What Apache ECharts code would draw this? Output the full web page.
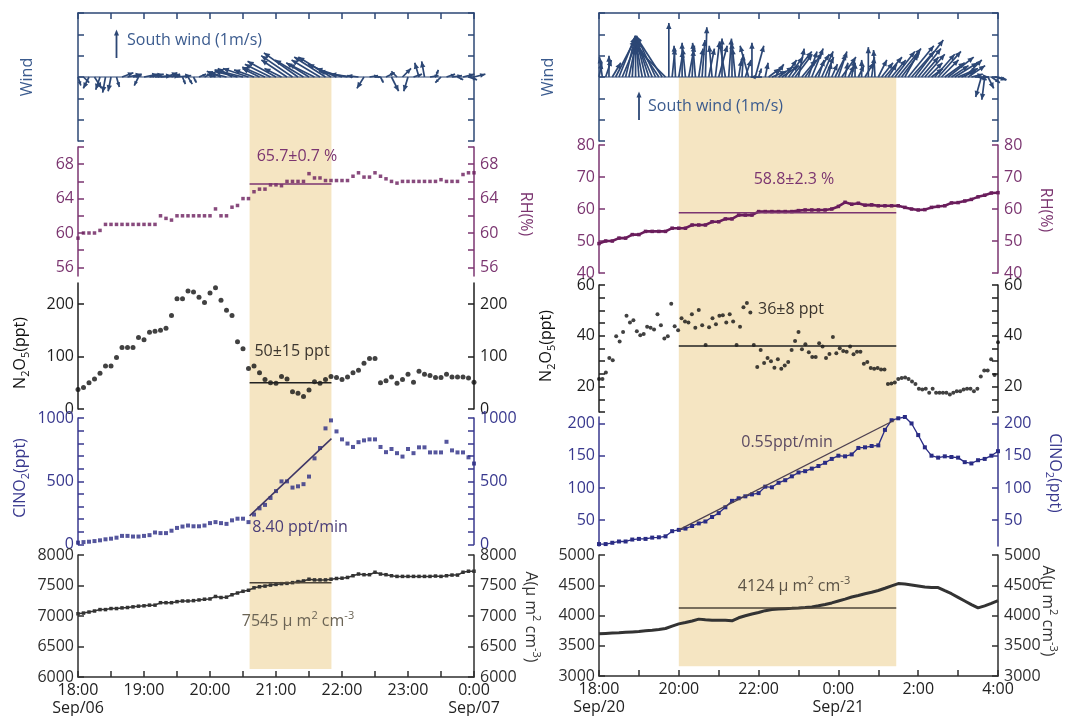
<!DOCTYPE html>
<html><head><meta charset="utf-8">
<script src="https://cdn.jsdelivr.net/npm/echarts@6/dist/echarts.min.js"></script>
<style>html,body{margin:0;padding:0;background:#fff}#c{width:1065px;height:716px}</style>
</head><body><div id="c"></div>
<script>
// ---------------- DATA ----------------
// x values are hours after 18:00
const leftTickHours = [0,1,2,3,4,5,6];
const leftTickLabels = ['18:00\nSep/06','19:00','20:00','21:00','22:00','23:00','0:00\nSep/07'];
const rightTickHours = [0,2,4,6,8,10];
const rightTickLabels = ['18:00\nSep/20','20:00','22:00','0:00\nSep/21','2:00','4:00'];
const xTicksL = [0,0.5,1,1.5,2,2.5,3,3.5,4,4.5,5,5.5,6];
const xTicksR = [0,1,2,3,4,5,6,7,8,9,10];

// y tick / label values
const windTicks = [-2.25,-1.5,-0.75,0,0.75,1.5,2.25];
const rhTicksL = [56,58,60,62,64,66,68,70], rhLabelsL = [56,60,64,68];
const n2o5TicksL = [0,100,200];
const clTicksL = [0,100,200,300,400,500,600,700,800,900,1000], clLabelsL = [0,500,1000];
const aTicksL = [6000,6500,7000,7500,8000];
const rhTicksR = [40,50,60,70,80];
const n2o5TicksR = [10,15,20,25,30,35,40,45,50,55,60], n2o5LabelsR = [20,40,60];
const clTicksR = [50,100,150,200];
const aTicksR = [3000,3500,4000,4500,5000];

// ---- Left case (Sep 06-07), 5-min samples ----
const stepLmin = 5;
const windLU = [0.1,0.2,-0.2,0.25,-0.15,-0.1,-0.1,0.1,0.4,0.5,0.3,-0.15,0.5,0.5,0.6,0.7,0.4,0.3,0.5,0.1,
  0.15,0.1,0.25,0.3,0.2,-0.3,-0.5,-0.6,-0.5,-0.8,-1.0,-0.9,-0.7,-0.6,-0.8,-0.9,-1.0,-0.6,-0.9,-1.1,
  -1.2,-1.0,-0.8,-0.9,-1.0,-1.1,-1.15,-1.0,-0.9,-1.0,-0.8,-0.4,-0.25,0.3,0.2,0.1,0.3,0.25,-0.2,0.3,
  -0.15,0.3,-0.15,-0.1,0.3,0.1,-0.2,0.3,0.35,0.2,0.4,0.3,0.4];
const windLV = [-0.3,-0.2,-0.4,-0.4,-0.45,-0.55,-0.5,-0.35,0.15,0.1,0.05,-0.3,0.1,0.1,0.05,0.05,0.15,0.1,0.05,-0.25,
  -0.25,-0.2,0.1,0.15,0.05,0.1,0.2,0.15,0.3,0.2,0.25,0.3,0.25,0.3,0.35,0.45,0.55,0.3,0.6,0.75,
  0.85,0.6,0.5,0.45,0.6,0.7,0.7,0.45,0.3,0.2,0.1,0.05,-0.4,0.05,0.0,-0.2,0.15,-0.5,0.2,0.3,
  -0.5,0.1,0.5,0.55,0.05,0.25,-0.2,0.1,0.05,-0.1,0.1,-0.1,0.1];
const rhL = [59.4,60.0,60.0,60.0,60.3,61.0,61.0,61.0,61.0,61.0,
  61.0,61.0,61.0,61.0,61.0,62.0,61.7,61.5,62.0,62.0,
  62.0,62.0,62.0,62.0,62.0,62.8,62.0,62.0,63.0,63.2,
  64.0,64.0,64.8,65.1,65.1,65.6,65.6,65.5,66.0,66.0,
  66.0,66.0,66.9,66.4,66.4,66.1,66.1,66.1,66.1,66.1,
  66.6,67.0,66.5,66.5,67.0,66.6,66.3,66.0,65.8,66.0,
  66.0,66.0,66.0,66.0,66.0,66.0,66.2,66.0,66.0,66.0,
  66.8,67.0,67.0];
const n2o5L = [37,41,50,57,68,82,82,98,117,117,
  117,136,132,146,148,150,154,178,210,210,
  225,223,213,203,221,231,207,188,178,128,
  115,77,82,69,56,50,49,62,57,33,
  30,24,36,52,49,56,62,60,56,61,
  69,74,87,96,96,50,54,61,49,56,
  66,51,72,66,64,60,60,66,61,61,
  61,59,51];
const clno2L = [15,19,22,27,33,41,46,54,68,68,
  63,63,68,74,95,90,90,109,131,142,
  150,144,144,150,169,177,169,163,191,204,
  204,177,237,286,313,368,422,499,499,450,
  460,477,537,681,763,918,981,894,831,798,
  771,809,823,831,831,771,730,755,722,695,
  755,722,768,768,728,728,728,812,744,728,
  728,689,640];
const aL = [7037,7048,7065,7082,7105,7105,7122,7122,7133,7139,
  7150,7161,7167,7178,7178,7218,7218,7218,7235,7246,
  7246,7252,7263,7275,7280,7320,7303,7309,7348,7377,
  7405,7422,7462,7479,7490,7507,7518,7530,7535,7547,
  7564,7575,7603,7592,7592,7592,7603,7615,7620,7632,
  7660,7688,7677,7677,7717,7688,7677,7660,7649,7649,
  7649,7649,7649,7649,7649,7655,7649,7660,7671,7671,
  7717,7734,7734];
const shadeL = [2.6, 3.84];          // 20:36 - 21:50
const shadeBottomL = 6130;           // in A-axis units
const meanRhL = 65.7, meanN2o5L = 50, meanAL = 7545;
const fitClL = [[2.6, 226], [3.84, 837]];

// ---- Right case (Sep 20-21) ----
const stepRwindMin = 5;
const windRU = [0.1,-0.1,0.2,0.0,0.3,0.67,0.56,0.46,0.35,0.25,
  0.1,0.0,-0.1,-0.2,-0.35,-0.46,-0.56,-0.67,-0.8,-0.9,
  -1.0,0.0,0.1,-0.05,0.15,0.0,-0.1,0.2,0.05,-0.1,
  0.15,0.1,0.05,0.2,-0.1,0.15,0.3,0.0,-0.2,0.1,
  0.0,-0.1,0.1,0.05,0.2,-0.3,0.0,0.3,0.1,-0.4,
  0.1,0.4,0.5,0.3,0.5,0.6,0.4,0.5,0.7,0.6,
  0.2,0.5,0.6,0.3,0.4,0.5,0.2,0.4,0.3,0.1,
  0.2,0.4,0.3,0.5,0.1,0.2,0.1,0.0,0.2,0.0,
  0.3,0.0,0.1,-0.05,0.3,0.4,0.6,0.3,0.5,0.7,
  0.8,0.6,0.5,0.9,0.8,1.0,0.8,0.6,0.7,0.5,
  0.4,0.7,0.8,0.6,0.7,0.9,0.6,0.8,0.7,0.5,
  0.6,0.6,0.4,0.5,0.3,-0.2,-0.1,0.2,0.3,0.4,0.3];
const windRV = [0.5,0.7,0.6,0.75,0.5,1.3,1.4,1.1,1.45,1.2,
  1.45,1.0,1.3,1.1,1.45,1.4,1.3,1.45,1.2,1.4,
  1.0,1.9,1.0,1.1,0.9,1.2,1.0,1.1,0.95,1.2,
  1.0,1.3,1.75,1.0,1.1,1.25,1.1,1.35,1.2,1.35,
  1.2,1.0,0.6,0.8,0.6,1.1,1.2,1.1,0.3,0.0,
  0.5,0.3,0.2,0.45,0.35,0.4,0.6,0.7,0.9,0.8,
  1.0,0.6,0.85,0.9,1.0,0.8,0.6,0.9,0.7,0.5,
  0.45,0.8,0.9,0.7,0.5,0.4,0.6,0.5,0.4,0.6,
  0.5,1.05,0.7,0.95,0.6,0.5,0.7,0.45,0.6,0.9,
  1.0,0.8,0.9,1.1,0.9,1.3,1.0,0.7,0.8,0.5,
  0.3,0.8,0.9,0.6,0.5,0.7,0.4,0.5,0.3,0.2,
  0.6,0.4,0.1,0.0,-0.1,-0.7,-0.8,-0.4,-0.2,-0.1,-0.1];
const stepR10min = 10;
const rhR = [49.2,50.0,50.0,50.9,50.9,52.0,52.0,53.0,53.0,53.0,
  53.0,54.0,54.0,54.0,55.0,55.0,55.0,56.0,56.0,56.9,
  56.9,58.1,58.1,58.1,59.2,59.2,59.2,59.2,59.2,59.2,
  59.5,59.7,59.7,59.7,59.7,60.0,60.8,62.1,61.5,61.8,
  61.2,61.3,61.0,61.0,61.0,61.0,60.5,60.0,59.7,59.8,
  60.5,60.8,61.0,61.9,62.0,62.5,63.0,63.8,64.3,65.0,65.1];
const n2o5R = [23,23,25.6,31.3,30.4,39.8,37.8,41.5,47.9,45.2,
  46.1,41.8,40.2,40.7,43.6,43.2,42.5,48.5,44.2,38.9,
  39.8,52.6,43.8,42.2,46.9,45.6,45.2,48.5,43.2,50.2,
  44.2,36.4,43.4,46.9,44.5,47.9,48.1,45.2,48.5,45.6,
  36.4,43.6,51.2,52.9,49.2,36.4,27.7,34.4,29.3,31.3,
  30,27.4,30.8,27,28.3,29.7,34.4,38,41.5,34.7,
  36.7,33.5,31.7,31.7,37.1,35.8,31.3,32.8,39.5,33.1,
  35.1,34,33.7,35.8,32.7,33.7,33.7,29,29.7,27.3,
  27,27.3,26.7,26.7,21,21.2,21.6,23,23.4,23.6,
  23,22,21,19.2,18.9,19.2,17.6,19.2,17.6,17.6,
  17.6,17.6,16.9,17.6,18.2,18.2,18.9,19.2,19.2,18.2,
  19.2,24,26.3,26.3,30.8,24.6,37.5];
const clno2R = [13,13,15,17,17,20,21,21,23,23.5,
  25,33,35,37,41,45,48,55,61,70,
  80,84,87,90,92,102,101,108,112,118,
  124,126,130,134,139,145,150,149,152,162,
  163,165,166,190,205,208,210,200,182,163,
  150,147,149,148,147,140,138,143,145,150,157];
const aR = [3697,3703,3709,3714,3722,3729,3736,3748,3758,3770,
  3785,3824,3862,3885,3910,3940,3930,3923,3923,3920,
  3912,3962,3995,4025,4050,4080,4098,4106,4112,4118,
  4125,4133,4142,4160,4182,4208,4240,4270,4305,4330,
  4360,4385,4413,4450,4490,4528,4520,4505,4488,4470,
  4462,4462,4410,4360,4300,4240,4180,4125,4160,4200,4246];
const shadeR = [2.0, 7.45];          // 20:00 - 01:27
const shadeBottomR = 3160;
const meanRhR = 58.8, meanN2o5R = 36, meanAR = 4124;
const fitClR = [[2.0, 35], [7.4, 205]];

// ---------------- CHART ----------------
const FONT = "'Open Sans', 'DejaVu Sans', sans-serif";
const COL = {
  wind:'#2c4775', windText:'#3b5b8e', rh:'#6a1d5c', rhAxis:'#7b3570',
  n2o5:'#111111', n2o5Axis:'#1e1e1e', cl:'#2a2c85', clAxis:'#38388e',
  a:'#333333', aAxis:'#2f2f2f', shade:'#f5e5c2'
};
const chart = echarts.init(document.getElementById('c'), null, {renderer:'canvas'});

const gridBoxes = [
  [78,13,396,128],[78,147,396,129],[78,283,396,126],[78,418,396,126.5],[78,555,396,122],
  [599,13,399,128],[599,145,399,128],[599,285,399,127],[599,417,399,129],[599,555,399,121]
];
const ySpec = [
  {min:-2.25,max:2.25,ticks:windTicks,labels:null,color:COL.wind},
  {min:55,max:70,ticks:rhTicksL,labels:rhLabelsL,color:COL.rhAxis},
  {min:0,max:240,ticks:n2o5TicksL,labels:n2o5TicksL,color:COL.n2o5Axis},
  {min:0,max:1000,ticks:clTicksL,labels:clLabelsL,color:COL.clAxis},
  {min:6000,max:8000,ticks:aTicksL,labels:aTicksL,color:COL.aAxis},
  {min:-2.25,max:2.25,ticks:windTicks,labels:null,color:COL.wind},
  {min:40,max:80,ticks:rhTicksR,labels:rhTicksR,color:COL.rhAxis},
  {min:10,max:60,ticks:n2o5TicksR,labels:n2o5LabelsR,color:COL.n2o5Axis},
  {min:10,max:210,ticks:clTicksR,labels:clTicksR,color:COL.clAxis},
  {min:3000,max:5000,ticks:aTicksR,labels:aTicksR,color:COL.aAxis}
];

const grids = gridBoxes.map(b => ({left:b[0], top:b[1], width:b[2], height:b[3], containLabel:false, outerBoundsMode:'none'}));

const yAxes = [];
ySpec.forEach((s, gi) => {
  ['left','right'].forEach(pos => {
    yAxes.push({
      type:'value', gridIndex:gi, position:pos, min:s.min, max:s.max,
      axisLine:{show:true, onZero:false, lineStyle:{color:s.color, width:1.5}},
      axisTick:{show:true, inside:true, length:6, customValues:s.ticks, lineStyle:{color:s.color, width:1.5}},
      axisLabel: s.labels ? {show:true, customValues:s.labels, formatter: v => String(v), color:s.color, fontSize:16, fontFamily:FONT, margin: pos==='left'?4:6} : {show:false},
      splitLine:{show:false}
    });
  });
});

const xAxes = gridBoxes.map((b, gi) => {
  const L = gi < 5, row = gi % 5;
  const base = {type:'value', gridIndex:gi, min:0, max: L ? 6 : 10, splitLine:{show:false}};
  const ticks = L ? xTicksL : xTicksR;
  if (row === 0) return Object.assign(base, {position:'top',
    axisLine:{show:true, onZero:false, lineStyle:{color:COL.wind, width:1.5}},
    axisTick:{show:true, inside:true, length:6, customValues:ticks, lineStyle:{color:COL.wind, width:1.5}},
    axisLabel:{show:false}});
  if (row === 4) {
    const hrs = L ? leftTickHours : rightTickHours, labs = L ? leftTickLabels : rightTickLabels;
    return Object.assign(base, {position:'bottom',
      axisLine:{show:true, onZero:false, lineStyle:{color:COL.aAxis, width:1.5}},
      axisTick:{show:true, inside:true, length:6, customValues:ticks, lineStyle:{color:COL.aAxis, width:1.5}},
      axisLabel:{show:true, customValues:hrs, formatter: v => { const k = hrs.indexOf(v); return k >= 0 ? labs[k] : ''; },
        color:'#222', fontSize:16, fontFamily:FONT, lineHeight:18, margin:4}});
  }
  return Object.assign(base, {show:false});
});

function pts(arr, stepHours) { return arr.map((v, i) => [i * stepHours, v]); }

function windItem(params, api) {
  const t = api.value(0), u = api.value(1), v = api.value(2);
  const p0 = api.coord([t, 0]);
  const ppm = api.size([0, 1])[1];
  const dx = u * ppm, dy = -v * ppm;
  const len = Math.hypot(dx, dy);
  const tx = p0[0] + dx, ty = p0[1] + dy;
  const children = [{type:'line', shape:{x1:p0[0], y1:p0[1], x2:tx, y2:ty}, style:{stroke:COL.wind, lineWidth:1.7}}];
  if (len > 4) {
    const ux = dx / len, uy = dy / len;
    const hl = Math.min(6, len * 0.45), hw = hl * 0.45;
    const bx = tx - ux * hl, by = ty - uy * hl;
    children.push({type:'polygon', shape:{points:[[tx, ty], [bx - uy * hw, by + ux * hw], [bx + uy * hw, by - ux * hw]]}, style:{fill:COL.wind}});
  }
  return {type:'group', children};
}

function yIdx(gi) { return gi * 2; }
function lineSeg(gi, data, color, width) {
  return {type:'line', xAxisIndex:gi, yAxisIndex:yIdx(gi), data, symbol:'none', silent:true, z:5,
    lineStyle:{color, width}};
}

const series = [
  // LEFT
  {type:'custom', xAxisIndex:0, yAxisIndex:0, renderItem:windItem, clip:false, z:4,
    encode:{x:0, y:2}, data: windLU.map((u, i) => [i * stepLmin / 60, u, windLV[i]])},
  lineSeg(0, [[0, 0], [6, 0]], COL.wind, 1),
  {type:'scatter', xAxisIndex:1, yAxisIndex:yIdx(1), data:pts(rhL, stepLmin/60), symbol:'rect', symbolSize:3.5, itemStyle:{color:COL.rh}},
  lineSeg(1, [[shadeL[0], meanRhL], [shadeL[1], meanRhL]], COL.rhAxis, 1.5),
  {type:'scatter', xAxisIndex:2, yAxisIndex:yIdx(2), data:pts(n2o5L, stepLmin/60), symbol:'circle', symbolSize:5, itemStyle:{color:COL.n2o5}},
  lineSeg(2, [[shadeL[0], meanN2o5L], [shadeL[1], meanN2o5L]], '#222', 1.5),
  {type:'scatter', xAxisIndex:3, yAxisIndex:yIdx(3), data:pts(clno2L, stepLmin/60), symbol:'rect', symbolSize:4, itemStyle:{color:COL.cl}},
  lineSeg(3, fitClL, '#3d3566', 1.5),
  {type:'line', xAxisIndex:4, yAxisIndex:yIdx(4), data:pts(aL, stepLmin/60), symbol:'rect', symbolSize:3.5, showAllSymbol:true,
    lineStyle:{color:COL.a, width:1.5}, itemStyle:{color:COL.a}},
  lineSeg(4, [[shadeL[0], meanAL], [shadeL[1], meanAL]], '#4e463a', 1.5),
  // RIGHT
  {type:'custom', xAxisIndex:5, yAxisIndex:yIdx(5), renderItem:windItem, clip:false, z:4,
    encode:{x:0, y:2}, data: windRU.map((u, i) => [i * stepRwindMin / 60, u, windRV[i]])},
  lineSeg(5, [[0, 0], [10, 0]], COL.wind, 1),
  {type:'line', xAxisIndex:6, yAxisIndex:yIdx(6), data:pts(rhR, stepR10min/60), symbol:'rect', symbolSize:3.5, showAllSymbol:true,
    lineStyle:{color:COL.rh, width:2.6}, itemStyle:{color:COL.rh}},
  lineSeg(6, [[shadeR[0], meanRhR], [shadeR[1], meanRhR]], COL.rhAxis, 1.5),
  {type:'scatter', xAxisIndex:7, yAxisIndex:yIdx(7), data:pts(n2o5R, 10/(n2o5R.length-1)), symbol:'circle', symbolSize:4, itemStyle:{color:COL.n2o5}},
  lineSeg(7, [[shadeR[0], meanN2o5R], [shadeR[1], meanN2o5R]], '#222', 1.5),
  {type:'line', xAxisIndex:8, yAxisIndex:yIdx(8), data:pts(clno2R, stepR10min/60), symbol:'rect', symbolSize:4, showAllSymbol:true,
    lineStyle:{color:COL.cl, width:1.3}, itemStyle:{color:COL.cl}},
  lineSeg(8, fitClR, '#4d4050', 1.3),
  {type:'line', xAxisIndex:9, yAxisIndex:yIdx(9), data:pts(aR, stepR10min/60), symbol:'none',
    lineStyle:{color:COL.a, width:3}},
  lineSeg(9, [[shadeR[0], meanAR], [shadeR[1], meanAR]], '#4e463a', 1.5)
];

chart.setOption({
  animation:false,
  backgroundColor:'#ffffff',
  textStyle:{fontFamily:FONT},
  grid:grids, xAxis:xAxes, yAxis:yAxes, series
});

// ---------- overlays: shading, labels, annotations ----------
function px(xi, yi, x, y) { return chart.convertToPixel({xAxisIndex:xi, yAxisIndex:yi}, [x, y]); }
function shadeRect(wGi, aGi, range, bottomVal) {
  const p1 = px(wGi, yIdx(wGi), range[0], 0);
  const p2 = px(wGi, yIdx(wGi), range[1], 0);
  const p3 = px(aGi, yIdx(aGi), range[0], bottomVal);
  return {type:'rect', z:-10, silent:true, shape:{x:p1[0], y:p1[1], width:p2[0]-p1[0], height:p3[1]-p1[1]}, style:{fill:COL.shade}};
}
const RICH = (color) => ({
  b:{fontSize:16, fontFamily:FONT, fill:color, lineHeight:22, verticalAlign:'middle'},
  s:{fontSize:11, fontFamily:FONT, fill:color, lineHeight:11, verticalAlign:'bottom'},
  p:{fontSize:11, fontFamily:FONT, fill:color, lineHeight:11, verticalAlign:'top'}
});
function txt(text, x, y, color, rot, align, rich) {
  const st = {text, fill:color, fontSize:16, fontFamily:FONT,
    align: align || 'center', textAlign: align || 'center', verticalAlign:'middle', textVerticalAlign:'middle'};
  if (rich) st.rich = RICH(color);
  return {type:'text', x, y, rotation: rot || 0, z:100, silent:true, style:st};
}
function legendArrow(x, yTail, gi) {
  const a = px(gi, yIdx(gi), 0, 0), b = px(gi, yIdx(gi), 0, 1);
  const L = Math.abs(a[1] - b[1]);
  const yHead = yTail - L;
  return {type:'group', z:100, silent:true, children:[
    {type:'line', shape:{x1:x, y1:yTail, x2:x, y2:yHead + 4}, style:{stroke:COL.wind, lineWidth:1.8}},
    {type:'polygon', shape:{points:[[x, yHead], [x - 2.5, yHead + 6], [x + 2.5, yHead + 6]]}, style:{fill:COL.wind}}
  ]};
}
const UP = Math.PI / 2, DOWN = -Math.PI / 2;
const unitA = '{b|A(μ m}{p|2}{b| cm}{p|-3}{b|)}';
chart.setOption({graphic:{elements:[
  shadeRect(0, 4, shadeL, shadeBottomL),
  shadeRect(5, 9, shadeR, shadeBottomR),
  // axis titles
  txt('Wind', 27, 77, COL.windText, UP),
  txt('{b|N}{s|2}{b|O}{s|5}{b|(ppt)}', 20, 353, COL.n2o5, UP, 'center', true),
  txt('{b|ClNO}{s|2}{b|(ppt)}', 20, 478, COL.clAxis, UP, 'center', true),
  txt('RH(%)', 526, 214, COL.rhAxis, DOWN),
  txt(unitA, 531, 617, '#333', DOWN, 'center', true),
  txt('Wind', 548, 77, COL.windText, UP),
  txt('{b|N}{s|2}{b|O}{s|5}{b|(ppt)}', 546, 346, COL.n2o5, UP, 'center', true),
  txt('RH(%)', 1046, 210, COL.rhAxis, DOWN),
  txt('{b|ClNO}{s|2}{b|(ppt)}', 1055, 473, COL.clAxis, DOWN, 'center', true),
  txt(unitA, 1048, 611, '#333', DOWN, 'center', true),
  // annotations
  txt('65.7±0.7 %', 297, 156, COL.rhAxis),
  txt('50±15 ppt', 292, 351, '#3b352e'),
  txt('8.40 ppt/min', 300, 527, '#4a3d78'),
  txt('{b|7545 µ m}{p|2}{b| cm}{p|-3}', 298, 621, '#6b6455', 0, 'center', true),
  txt('58.8±2.3 %', 794, 179, COL.rhAxis),
  txt('36±8 ppt', 791, 309, '#3b352e'),
  txt('0.55ppt/min', 787, 442, '#5b4a62'),
  txt('{b|4124 µ m}{p|2}{b| cm}{p|-3}', 794, 586, '#5a5245', 0, 'center', true),
  txt('South wind (1m/s)', 127, 40, COL.windText, 0, 'left'),
  txt('South wind (1m/s)', 648, 106, COL.windText, 0, 'left'),
  legendArrow(116.5, 58, 0),
  legendArrow(639, 120, 5)
]}});
</script></body></html>
